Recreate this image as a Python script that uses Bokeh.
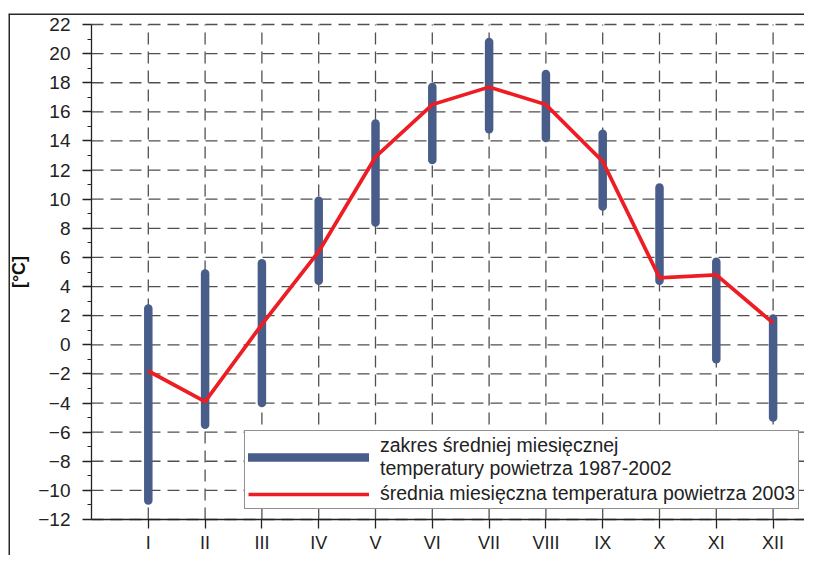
from bokeh.plotting import figure
from bokeh.models import (FixedTicker, Legend, LegendItem, ColumnDataSource,
                          Span, Range1d)
from bokeh.embed import file_html
from bokeh.resources import INLINE

# ---- data ----
months = ["I", "II", "III", "IV", "V", "VI", "VII", "VIII", "IX", "X", "XI", "XII"]
month_pos = [1, 2, 3, 4, 5, 6, 7, 8, 9, 10, 11, 12]
range_high = [2.5, 4.9, 5.6, 9.9, 15.2, 17.7, 20.8, 18.6, 14.5, 10.8, 5.7, 1.8]
range_low = [-10.7, -5.5, -4.0, 4.4, 8.4, 12.7, 14.8, 14.2, 9.5, 4.4, -1.0, -5.0]
mean_2003 = [-1.8, -3.9, 1.4, 6.4, 12.9, 16.5, 17.7, 16.5, 12.6, 4.6, 4.8, 1.5]
y_major = list(range(-12, 23, 2))
y_minor = list(range(-11, 22, 2))
label_range = "zakres średniej miesięcznej\ntemperatury powietrza 1987-2002"
label_mean = "średnia miesięczna temperatura powietrza 2003"
y_title = "[°C]"

FONT = "Liberation Sans"
BLUE = "#485d89"
RED = "#ee1d24"
GRID = "#505050"
DARK = "#222222"

# ---- layout (px) ----
W, H = 804, 555
PAD_L, PAD_T = 8, 13
frame_w = W - PAD_L
frame_h = H - PAD_T
x0_px = 83.0          # x=0 (y axis) from frame left
month_px = 56.8       # px per month
y_top_px = 11.0       # value 22 from frame top
y_low_px = 506.0      # value -12 from frame top
y_lo_val, y_hi_val = -12, 22
px_per_unit = (y_low_px - y_top_px) / (y_hi_val - y_lo_val)

x_start = -x0_px / month_px
x_end = (frame_w - x0_px) / month_px
y_end = y_hi_val + y_top_px / px_per_unit
y_start = y_lo_val - (frame_h - y_low_px) / px_per_unit

src = ColumnDataSource(dict(x=month_pos, lo=range_low, hi=range_high, mean=mean_2003))

p = figure(
    width=W, height=H,
    x_range=Range1d(x_start, x_end), y_range=Range1d(y_start, y_end),
    output_backend="svg", toolbar_location=None,
    min_border_left=PAD_L, min_border_top=PAD_T, min_border_right=0, min_border_bottom=0,
    background_fill_color="white", border_fill_color="white",
)
p.outline_line_color = None
p.xgrid.visible = False
p.ygrid.visible = False

# dashed grid limited to the chart area
hsrc = ColumnDataSource(dict(y=y_major, xa=[0] * len(y_major), xb=[x_end] * len(y_major)))
vsrc = ColumnDataSource(dict(x=month_pos, ya=[y_lo_val] * 12, yb=[y_hi_val] * 12))
p.segment(x0="xa", y0="y", x1="xb", y1="y", source=hsrc,
          line_color=GRID, line_width=1.3, line_dash="12 7")
p.segment(x0="x", y0="ya", x1="x", y1="yb", source=vsrc,
          line_color=GRID, line_width=1.3, line_dash="12 7")

bars = p.segment(x0="x", y0="lo", x1="x", y1="hi", source=src,
                 line_color=BLUE, line_width=8.5, line_cap="round")
line = p.line(x="x", y="mean", source=src, line_color=RED, line_width=3.7,
              line_join="miter")

# axes placed inside the frame
xa = p.xaxis[0]
ya = p.yaxis[0]
xa.fixed_location = y_lo_val
ya.fixed_location = 0
xa.bounds = (0, x_end)
ya.bounds = (y_lo_val, y_hi_val)
xa.ticker = FixedTicker(ticks=month_pos, minor_ticks=[])
xa.major_label_overrides = {m: lab for m, lab in zip(month_pos, months)}
ya.ticker = FixedTicker(ticks=y_major, minor_ticks=y_minor)

for ax in (xa, ya):
    ax.axis_line_color = DARK
    ax.axis_line_width = 1.3
    ax.major_tick_line_color = DARK
    ax.major_tick_line_width = 1.3
    ax.major_tick_out = 9
    ax.major_tick_in = 0
    ax.minor_tick_line_color = DARK
    ax.minor_tick_line_width = 1.2
    ax.minor_tick_out = 4
    ax.minor_tick_in = 0
    ax.major_label_text_font = FONT
    ax.major_label_text_color = DARK

xa.major_label_text_font_size = "18px"
ya.major_label_text_font_size = "19px"
xa.major_label_standoff = 4
ya.major_label_standoff = 12
ya.axis_label = y_title
ya.axis_label_text_font = FONT
ya.axis_label_text_font_size = "18px"
ya.axis_label_text_font_style = "bold"
ya.axis_label_text_color = "#111111"
ya.axis_label_standoff = 6

# outer frame lines (left and top edges of the chart box)
p.add_layout(Span(location=x_start, dimension="height", line_color="#2a2a2a", line_width=3))
p.add_layout(Span(location=y_end, dimension="width", line_color="#2a2a2a", line_width=3))

# legend
legend = Legend(
    items=[LegendItem(label=label_range, renderers=[bars]),
           LegendItem(label=label_mean, renderers=[line])],
    location=(236, frame_h - (y_low_px - 10)),
    glyph_width=121, glyph_height=20,
    label_standoff=11,
    label_text_font=FONT, label_text_font_size="19.5px",
    label_text_color=DARK, label_text_line_height=1.13,
    padding=3, spacing=2, margin=0,
    border_line_color=DARK, border_line_width=1.3,
    background_fill_color="white", background_fill_alpha=1.0,
)
p.add_layout(legend, "center")

open("out.html", "w").write(file_html(p, INLINE))
